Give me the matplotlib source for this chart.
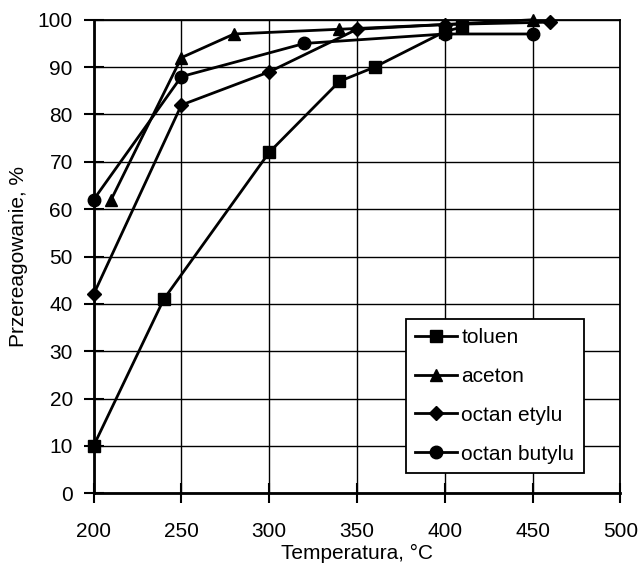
import matplotlib.pyplot as plt

plt.rcParams['font.family'] = ['Liberation Sans', 'DejaVu Sans']

# data
toluen_t = [200, 240, 300, 340, 360, 400, 410]
toluen_x = [10, 41, 72, 87, 90, 97.5, 98.5]

aceton_t = [210, 250, 280, 340, 400, 450]
aceton_x = [62, 92, 97, 98, 99, 100]

etyl_t = [200, 250, 300, 350, 400, 460]
etyl_x = [42, 82, 89, 98, 99, 99.5]

butyl_t = [200, 250, 320, 400, 450]
butyl_x = [62, 88, 95, 97, 97]

x_ticks = [200, 250, 300, 350, 400, 450, 500]
y_ticks = [0, 10, 20, 30, 40, 50, 60, 70, 80, 90, 100]

fig = plt.figure(figsize=(6.41, 5.65), dpi=100)
ax = fig.add_axes([0.146, 0.127, 0.822, 0.838])

style = dict(color='black', lw=2.0, clip_on=False)
ax.plot(toluen_t, toluen_x, marker='s', ms=9, label='toluen', **style)
ax.plot(aceton_t, aceton_x, marker='^', ms=9, label='aceton', **style)
ax.plot(etyl_t, etyl_x, marker='D', ms=7, label='octan etylu', **style)
ax.plot(butyl_t, butyl_x, marker='o', ms=9, label='octan butylu', **style)

ax.set_xlim(200, 500)
ax.set_ylim(0, 100)
ax.set_xticks(x_ticks)
ax.set_yticks(y_ticks)
ax.grid(True, color='black', lw=1.0)
ax.tick_params(direction='inout', length=14, width=1.5, labelsize=15)
ax.tick_params(axis='x', pad=14)
ax.tick_params(axis='y', pad=8)
for s in ax.spines.values():
    s.set_linewidth(1.3)
ax.spines['left'].set_linewidth(2.0)
ax.spines['bottom'].set_linewidth(2.0)

ax.set_xlabel('Temperatura, °C', fontsize=15, labelpad=2)
ax.set_ylabel('Przereagowanie, %', fontsize=15, labelpad=7)

leg = ax.legend(loc='lower right', bbox_to_anchor=(0.93, 0.043), fontsize=15,
                frameon=True, fancybox=False, edgecolor='black', framealpha=1,
                handlelength=2.0, handletextpad=0.2, borderpad=0.45, labelspacing=0.95,
                borderaxespad=0)
leg.get_frame().set_linewidth(1.3)

plt.savefig('out.png', dpi=100)
